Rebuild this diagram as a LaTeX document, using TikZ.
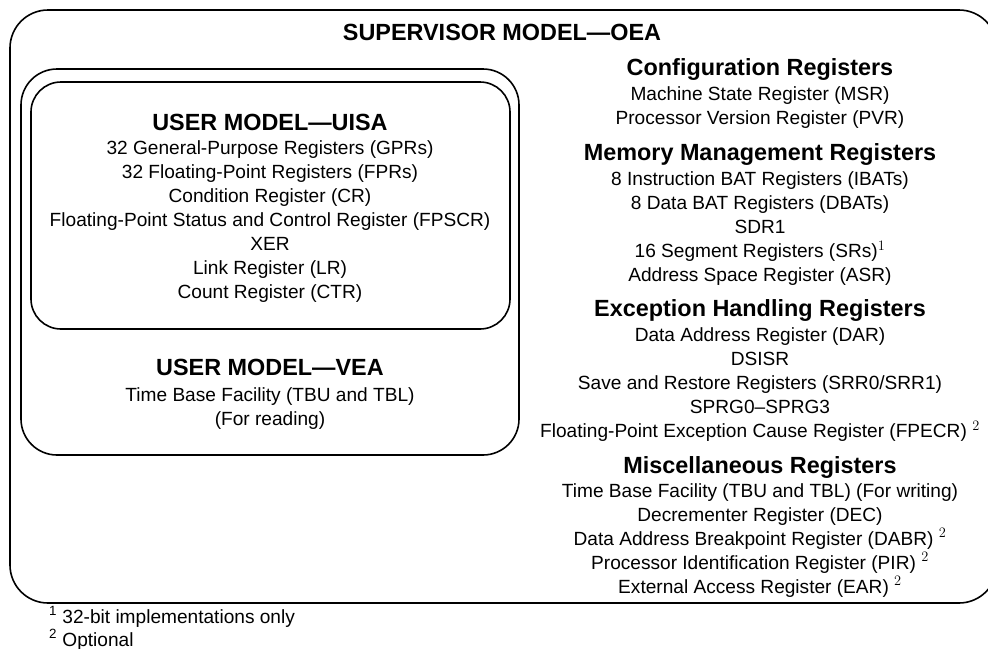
\documentclass[tikz,border=0pt]{standalone}
\usepackage{fontspec}
\setmainfont{Liberation Sans}
\usetikzlibrary{positioning}
\tikzset{
  model/.style = {draw, line width=1.6pt, rounded corners=#1},
  head/.style = {anchor=base, inner sep=0pt,
    font=\fontsize{23.4}{28}\selectfont\bfseries},
  regs/.style = {anchor=base, inner sep=0pt, align=center,
    font=\fontsize{19.1}{24}\selectfont}
}

\begin{document}
\begin{tikzpicture}[x=1pt,y=-1pt]
  \useasboundingbox (0,0) rectangle (988,648);
  \clip (0,0) rectangle (988,648);
  % nested models
  \draw[model=38pt] (10,10) rectangle (997,603);
  \draw[model=36pt] (21,69) rectangle (519,455);
  \draw[model=30pt] (31,82) rectangle (510,329);

  \node[head] (oea) at (502,40) {SUPERVISOR MODEL—OEA};

  % user models (register lists sit on their last baseline)
  \node[head] (uisa) at (270,130) {USER MODEL—UISA};
  \node[regs] (uisaregs) at (270,298.5) {32 General-Purpose Registers (GPRs)\\
    32 Floating-Point Registers (FPRs)\\ Condition Register (CR)\\
    Floating-Point Status and Control Register (FPSCR)\\ XER\\
    Link Register (LR)\\ Count Register (CTR)};
  \node[head] (vea) at (270,375) {USER MODEL—VEA};
  \node[regs] (vearegs) at (270,425) {Time Base Facility (TBU and TBL)\\
    (For reading)};

  % supervisor registers
  \node[head] (config) at (760,75.7) {Configuration Registers};
  \node[regs] (configregs) at (760,124.2) {Machine State Register (MSR)\\
    Processor Version Register (PVR)};
  \node[head] (mmu) at (760,160.1) {Memory Management Registers};
  \node[regs] (mmuregs) at (760,281.9) {8 Instruction BAT Registers (IBATs)\\
    8 Data BAT Registers (DBATs)\\ SDR1\\ 16 Segment Registers (SRs)$^1$\\
    Address Space Register (ASR)};
  \node[head] (exc) at (760,316.7) {Exception Handling Registers};
  \node[regs] (excregs) at (760,437.9) {Data Address Register (DAR)\\ DSISR\\
    Save and Restore Registers (SRR0/SRR1)\\ SPRG0--SPRG3\\
    Floating-Point Exception Cause Register (FPECR) $^2$};
  \node[head] (misc) at (760,473.4) {Miscellaneous Registers};
  \node[regs] (miscregs) at (760,593.5) {Time Base Facility (TBU and TBL) (For writing)\\
    Decrementer Register (DEC)\\ Data Address Breakpoint Register (DABR) $^2$\\
    Processor Identification Register (PIR) $^2$\\ External Access Register (EAR) $^2$};

  % footnotes
  \node[regs,anchor=base west] (note1) at (49,623.3) {\textsuperscript{1} 32-bit implementations only};
  \node[regs,anchor=base west] (note2) at (49,646) {\textsuperscript{2} Optional};
\end{tikzpicture}
\end{document}
